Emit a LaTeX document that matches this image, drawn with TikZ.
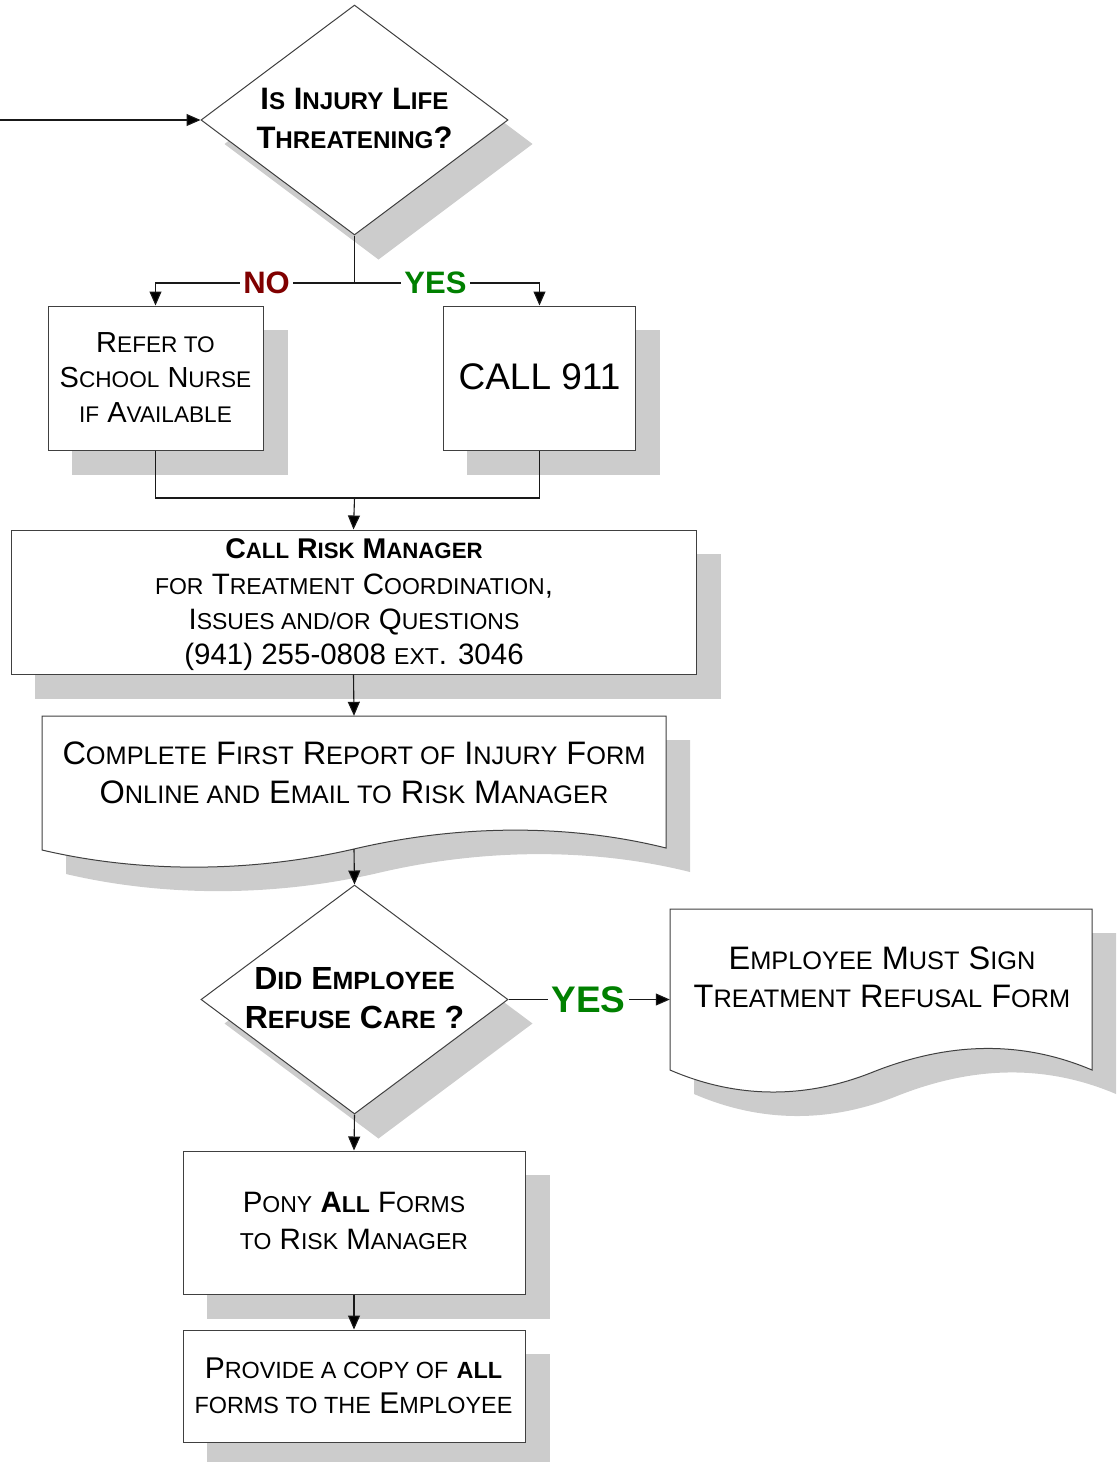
\documentclass[tikz,border=0pt]{standalone}
\usepackage{fontspec}
\setmainfont{Liberation Sans}
\usepackage{graphicx}
\usetikzlibrary{arrows.meta,shapes.geometric}
\newcommand\smc[1]{\scalebox{0.78}{#1}}
\definecolor{shadowc}{HTML}{CCCCCC}
\definecolor{nored}{HTML}{800000}
\definecolor{yesgreen}{HTML}{008000}
\pgfdeclarelayer{bg}
\pgfsetlayers{bg,main}
\begin{document}
\begin{tikzpicture}[x=1pt,y=-1pt,
  box/.style={draw=black!75, line width=1pt, fill=white, rectangle, inner sep=0pt},
  dia/.style={draw=black!75, line width=1pt, fill=white, diamond, inner sep=0pt},
  docarea/.style={rectangle, inner sep=0pt},
  txt/.style={align=center, inner sep=0pt, anchor=north},
  conn/.style={draw=black!90, line width=1.1pt},
  arr/.style={conn, -{Triangle[length=14pt,width=12pt,fill=black]}},
  shd/.style={fill=shadowc},
  lbl/.style={fill=white, inner xsep=3pt, inner ysep=0pt, font=\bfseries},
  docone/.style={insert path={(42,716) -- (666,716) -- (666,848) .. controls (570,824) and (460,824) .. (354,849) .. controls (250,873) and (140,873) .. (42,850) -- cycle}},
  doctwo/.style={insert path={(670,909) -- (1092,909) -- (1092,1070) .. controls (1019,1039) and (946,1043) .. (873,1072) .. controls (806,1099) and (737,1099) .. (670,1070) -- cycle}},
]
\useasboundingbox (0,0) rectangle (1118,1462);

% shapes
\node[dia, minimum width=307, minimum height=230] (d1) at (354.5,120) {};
\node[box, minimum width=215, minimum height=144] (refer) at (155.5,378) {};
\node[box, minimum width=192, minimum height=144] (call) at (539.5,378) {};
\node[box, minimum width=685, minimum height=144] (crm) at (353.5,602) {};
\node[docarea, minimum width=624, minimum height=134] (doc1) at (354,783) {};
\draw[box, docone];
\node[dia, minimum width=307, minimum height=229] (d2) at (354.5,999.5) {};
\node[docarea, minimum width=422, minimum height=161] (doc2) at (881,989.5) {};
\draw[box, doctwo];
\node[box, minimum width=342, minimum height=143] (pony) at (354,1222.5) {};
\node[box, minimum width=342, minimum height=112] (prov) at (354,1386) {};

% shadows
\begin{pgfonlayer}{bg}
\fill[shd] ([shift={(24,24)}]d1.north) -- ([shift={(24,24)}]d1.east) -- ([shift={(24,24)}]d1.south) -- ([shift={(24,24)}]d1.west) -- cycle;
\fill[shd] ([shift={(24,24)}]d2.north) -- ([shift={(24,24)}]d2.east) -- ([shift={(24,24)}]d2.south) -- ([shift={(24,24)}]d2.west) -- cycle;
\fill[shd] ([shift={(24,24)}]refer.north west) rectangle ([shift={(24,24)}]refer.south east);
\fill[shd] ([shift={(24,24)}]call.north west) rectangle ([shift={(24,24)}]call.south east);
\fill[shd] ([shift={(24,24)}]crm.north west) rectangle ([shift={(24,24)}]crm.south east);
\fill[shd] ([shift={(24,24)}]pony.north west) rectangle ([shift={(24,24)}]pony.south east);
\fill[shd] ([shift={(24,24)}]prov.north west) rectangle ([shift={(24,24)}]prov.south east);
\fill[shd, shift={(24,24)}, docone];
\fill[shd, shift={(24,24)}, doctwo];
\end{pgfonlayer}

% connectors
\coordinate (in) at (0,120);
\coordinate (j1) at (354.5,283);
\coordinate (j2) at (354.5,498);
\draw[arr] (in) -- (d1.west);
\draw[conn] (d1.south) -- (j1);
\draw[arr] (j1) -| (refer.north);
\draw[arr] (j1) -| (call.north);
\node[lbl, text=nored, font=\fontsize{31}{31}\selectfont\bfseries] (no) at (266.5,283) {NO};
\node[lbl, text=yesgreen, font=\fontsize{31}{31}\selectfont\bfseries] (yes1) at (435.5,283) {YES};
\draw[conn] (refer.south) |- (j2);
\draw[conn] (call.south) |- (j2);
\draw[arr] (j2) -- (crm.north);
\draw[arr] (crm.south) -- (doc1.north);
\draw[arr] ([yshift=1pt]doc1.south) -- (d2.north);
\draw[arr] (d2.east) -- (d2.east -| doc2.west);
\node[lbl, text=yesgreen, font=\fontsize{37}{37}\selectfont\bfseries] (yes2) at (588.5,999.5) {YES};
\draw[arr] (d2.south) -- (pony.north);
\draw[arr] (pony.south) -- (prov.north);

% texts
\node[txt, font=\fontsize{31}{39}\selectfont\bfseries] (t1) at (354.5,88) {I\smc{S} I\smc{NJURY} L\smc{IFE}\\T\smc{HREATENING}?};
\node[txt, font=\fontsize{29}{35}\selectfont] (treferal) at (155.5,332.6) {R\smc{EFER TO}\\S\smc{CHOOL} N\smc{URSE}\\\smc{IF} A\smc{VAILABLE}};
\node[txt, font=\fontsize{37}{37}\selectfont] (tcall) at (539.5,363.8) {CALL 911};
\node[txt, font=\fontsize{29.5}{35.3}\selectfont] (tcrm) at (354,538.8) {\textbf{\fontsize{28.5}{35.3}\selectfont C\smc{ALL} R\smc{ISK} M\smc{ANAGER}}\\\smc{FOR} T\smc{REATMENT} C\smc{OORDINATION},\\I\smc{SSUES AND/OR} Q\smc{UESTIONS}\\(941) 255-0808 \smc{EXT}. 3046};
\node[txt, font=\fontsize{32.5}{39}\selectfont] (tdoc1) at (354,741.4) {C\smc{OMPLETE} F\smc{IRST} R\smc{EPORT OF} I\smc{NJURY} F\smc{ORM}\\O\smc{NLINE AND} E\smc{MAIL TO} R\smc{ISK} M\smc{ANAGER}};
\node[txt, font=\fontsize{32}{39}\selectfont\bfseries] (t2) at (354.5,967.5) {D\smc{ID} E\smc{MPLOYEE}\\R\smc{EFUSE} C\smc{ARE} ?};
\node[txt, font=\fontsize{32.5}{38}\selectfont] (tdoc2) at (882,946.4) {E\smc{MPLOYEE} M\smc{UST} S\smc{IGN}\\T\smc{REATMENT} R\smc{EFUSAL} F\smc{ORM}};
\node[txt, font=\fontsize{29.5}{37}\selectfont] (tpony) at (354,1192.4) {P\smc{ONY} \textbf{A\smc{LL}} F\smc{ORMS}\\\smc{TO} R\smc{ISK} M\smc{ANAGER}};
\node[txt, font=\fontsize{30}{35}\selectfont] (tprov) at (353.5,1357.3) {P\smc{ROVIDE A COPY OF} \textbf{\smc{ALL}}\\\smc{FORMS TO THE} E\smc{MPLOYEE}};
\end{tikzpicture}
\end{document}
